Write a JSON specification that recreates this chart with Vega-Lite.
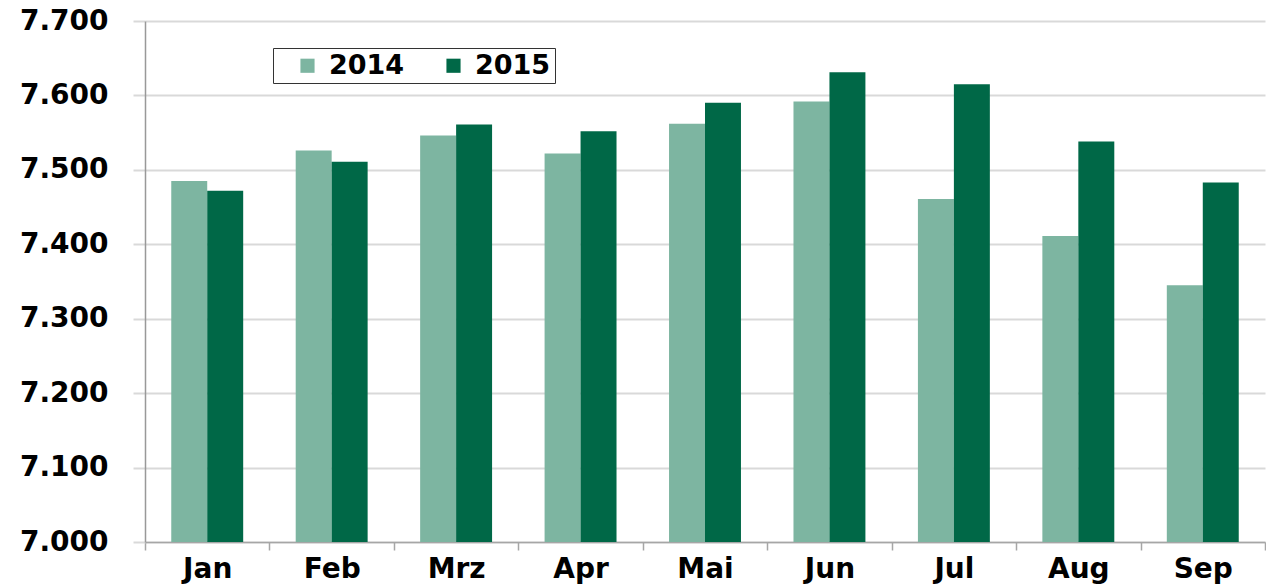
{
  "$schema": "https://vega.github.io/schema/vega-lite/v6.json",
  "autosize": "none",
  "width": 1120,
  "height": 521,
  "padding": {"left": 145, "top": 21, "right": 1, "bottom": 44},
  "background": "white",
  "data": {
    "values": [
      {"month": "Jan", "year": "2014", "value": 7485},
      {"month": "Jan", "year": "2015", "value": 7472},
      {"month": "Feb", "year": "2014", "value": 7526},
      {"month": "Feb", "year": "2015", "value": 7511},
      {"month": "Mrz", "year": "2014", "value": 7546},
      {"month": "Mrz", "year": "2015", "value": 7561},
      {"month": "Apr", "year": "2014", "value": 7522},
      {"month": "Apr", "year": "2015", "value": 7552},
      {"month": "Mai", "year": "2014", "value": 7562},
      {"month": "Mai", "year": "2015", "value": 7590},
      {"month": "Jun", "year": "2014", "value": 7592},
      {"month": "Jun", "year": "2015", "value": 7631},
      {"month": "Jul", "year": "2014", "value": 7461},
      {"month": "Jul", "year": "2015", "value": 7615},
      {"month": "Aug", "year": "2014", "value": 7411},
      {"month": "Aug", "year": "2015", "value": 7538},
      {"month": "Sep", "year": "2014", "value": 7345},
      {"month": "Sep", "year": "2015", "value": 7483}
    ]
  },
  "mark": {"type": "bar", "clip": true},
  "encoding": {
    "x": {
      "field": "month",
      "type": "nominal",
      "sort": ["Jan", "Feb", "Mrz", "Apr", "Mai", "Jun", "Jul", "Aug", "Sep"],
      "scale": {"paddingInner": 0, "paddingOuter": 0},
      "axis": {
        "title": null,
        "labelAngle": 0,
        "tickBand": "extent",
        "labelFont": "DejaVu Sans",
        "labelFontWeight": "bold",
        "labelFontSize": 28,
        "labelColor": "black",
        "labelPadding": 5,
        "domainColor": "#a6a6a6",
        "domainWidth": 1.5,
        "tickColor": "#a6a6a6",
        "tickSize": 8,
        "tickWidth": 1.5,
        "grid": false
      }
    },
    "xOffset": {"field": "year", "type": "nominal", "scale": {"paddingInner": 0, "paddingOuter": 0.73}},
    "y": {
      "field": "value",
      "type": "quantitative",
      "scale": {"domain": [7000, 7700], "zero": false, "nice": false},
      "axis": {
        "title": null,
        "values": [7000, 7100, 7200, 7300, 7400, 7500, 7600, 7700],
        "labelExpr": "replace(format(datum.value, ',d'), ',', '.')",
        "labelFont": "DejaVu Sans",
        "labelFontWeight": "bold",
        "labelFontSize": 28,
        "labelColor": "black",
        "labelPadding": 25,
        "tickSize": 12,
        "tickColor": "#d9d9d9",
        "tickWidth": 2,
        "grid": true,
        "gridColor": "#d9d9d9",
        "gridWidth": 2,
        "domainColor": "#999999",
        "domainWidth": 1.5
      }
    },
    "color": {
      "field": "year",
      "type": "nominal",
      "scale": {"domain": ["2014", "2015"], "range": ["#7db5a1", "#006847"]},
      "legend": {
        "title": null,
        "orient": "none",
        "legendX": 128,
        "legendY": 27,
        "direction": "horizontal",
        "symbolType": "square",
        "symbolSize": 200,
        "symbolStrokeWidth": 0,
        "labelFont": "DejaVu Sans",
        "labelFontWeight": "bold",
        "labelFontSize": 27,
        "labelColor": "black",
        "labelOffset": 8,
        "columnPadding": 18,
        "padding": 4,
        "symbolOffset": 17,
        "strokeColor": "#333333",
        "fillColor": "white"
      }
    }
  },
  "config": {
    "view": {"stroke": null},
    "axis": {"labelFlush": false}
  }
}
